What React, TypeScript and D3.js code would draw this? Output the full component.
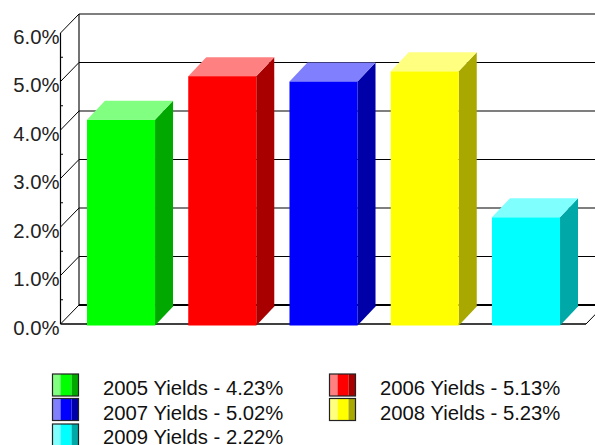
import React from 'react';
import * as d3 from 'd3';

const years = ['2005', '2006', '2007', '2008', '2009'];
const yields = [4.23, 5.13, 5.02, 5.23, 2.22];
const colors = ['#00ff00', '#ff0000', '#0000ff', '#ffff00', '#00ffff'];
const yTicks = [0, 1, 2, 3, 4, 5, 6];
const minorTicks = [0.5, 1.5, 2.5, 3.5, 4.5, 5.5];

const width = 595;
const height = 445;
const depthX = 18.5;
const depthY = 19;
const font = '"Liberation Sans", Arial, sans-serif';

const y = d3.scaleLinear().domain([0, 6]).range([324, 33]);
const x = d3.scaleBand<string>().domain(years).range([70.4, 576.6]).paddingInner(0.328).paddingOuter(0.164);

// top and side faces are just the bar colour towards white / black
const lightOf = (c: string) => d3.interpolateRgb(c, '#ffffff')(0.5);
const darkOf = (c: string) => d3.interpolateRgb(c, '#000000')(0.34);

const legendCols = [52.5, 329.5];
const legendRows = [374, 398.5, 424];
const legendBaselines = [395, 420, 444];

const App: React.FC = () => {
  const axisX = 60.5;
  const floorEnd = 586;

  return (
    <svg width={width} height={height} style={{ position: 'absolute', left: 0, top: 0, display: 'block', background: '#fff' }}>
      {/* back wall grid */}
      {yTicks.map(t => (
        <line key={t} x1={axisX + depthX} x2={width} y1={y(t) - depthY} y2={y(t) - depthY}
          stroke="#000" strokeWidth={t === 0 ? 1.8 : 1.1} />
      ))}
      <line x1={axisX + depthX} x2={axisX + depthX} y1={y(6) - depthY} y2={y(0) - depthY} stroke="#000" strokeWidth={1.1} />

      {/* side wall */}
      {yTicks.map(t => (
        <line key={t} x1={axisX} x2={axisX + depthX} y1={y(t)} y2={y(t) - depthY} stroke="#000" strokeWidth={1} />
      ))}
      <line x1={axisX} x2={axisX} y1={y(6)} y2={y(0)} stroke="#000" strokeWidth={1.2} />
      {minorTicks.map(t => (
        <line key={t} x1={axisX} x2={axisX + 2.5} y1={y(t)} y2={y(t)} stroke="#000" strokeWidth={1} />
      ))}

      {/* floor */}
      <line x1={axisX} x2={floorEnd} y1={y(0)} y2={y(0)} stroke="#000" strokeWidth={1.4} />
      <line x1={floorEnd} x2={floorEnd + depthX} y1={y(0)} y2={y(0) - depthY} stroke="#000" strokeWidth={1} />

      {/* bars */}
      {years.map((yr, i) => {
        const x0 = x(yr) as number;
        const x1 = x0 + x.bandwidth();
        const top = y(yields[i]) + 1;
        const base = y(0) + 1.5;
        const dx = 18;
        const dy = 19;
        return (
          <g key={yr}>
            <path d={`M${x1},${base}L${x1 + dx},${base - dy}L${x1 + dx},${top - dy}L${x1},${top}Z`} fill={darkOf(colors[i])} />
            <path d={`M${x0},${top}L${x0 + dx},${top - dy}L${x1 + dx},${top - dy}L${x1},${top}Z`} fill={lightOf(colors[i])} />
            <rect x={x0} y={top} width={x1 - x0} height={base - top} fill={colors[i]} />
          </g>
        );
      })}

      {/* y labels */}
      {yTicks.map(t => (
        <text key={t} x={59.5} y={y(t) + 10.5} textAnchor="end" fontFamily={font} fontSize={20.3} fill="#222">
          {d3.format('.1f')(t) + '%'}
        </text>
      ))}

      {/* legend */}
      {years.map((yr, i) => {
        const lx = legendCols[i % 2];
        const row = Math.floor(i / 2);
        const ly = legendRows[row];
        return (
          <g key={yr}>
            <rect x={lx} y={ly} width={8} height={22} fill={lightOf(colors[i])} />
            <rect x={lx + 8} y={ly} width={11} height={22} fill={colors[i]} />
            <rect x={lx + 19} y={ly} width={7} height={22} fill={darkOf(colors[i])} />
            <rect x={lx} y={ly} width={26} height={22} fill="none" stroke="#222" strokeWidth={1.2} />
            <text x={lx + 50.5} y={legendBaselines[row]} fontFamily={font} fontSize={20.3} fill="#111">
              {`${yr} Yields - ${yields[i].toFixed(2)}%`}
            </text>
          </g>
        );
      })}
    </svg>
  );
};

export default App;
